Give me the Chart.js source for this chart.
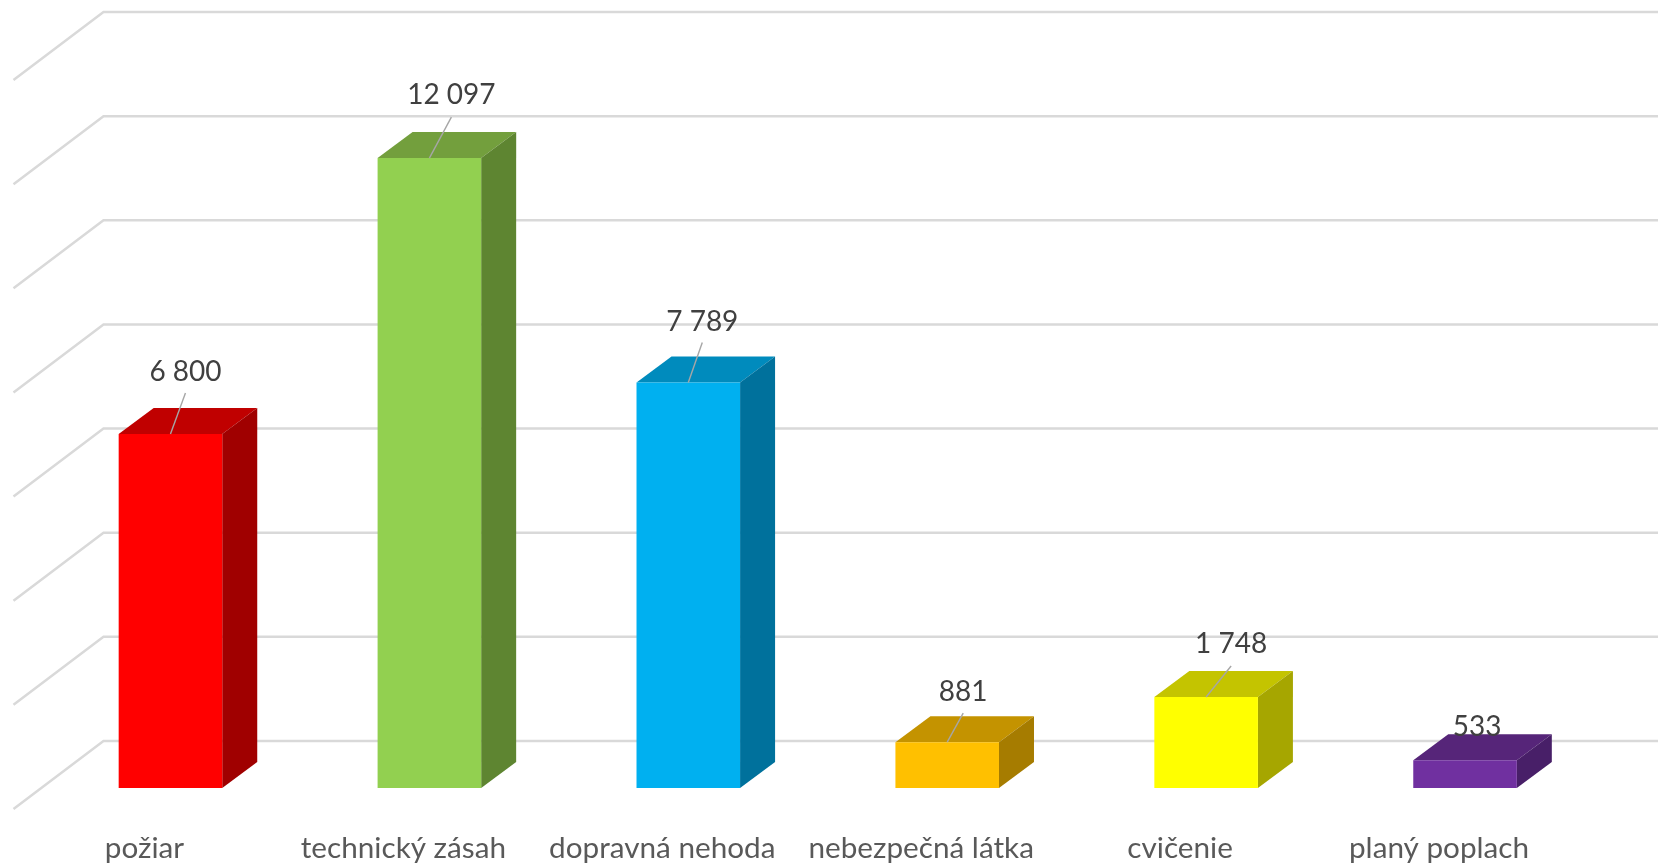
<!DOCTYPE html>
<html><head><meta charset="utf-8">
<style>html,body{margin:0;padding:0;background:#fff}#w{width:1661px;height:864px;position:relative}</style>
<script src="https://cdn.jsdelivr.net/npm/chart.js@4"></script>
</head><body><div id="w"><canvas id="c"></canvas></div>
<script>
const categories = ['požiar','technický zásah','dopravná nehoda','nebezpečná látka','cvičenie','planý poplach'];
const values = [6800,12097,7789,881,1748,533];
const frontColors = ['#ff0000','#92d050','#00b0f0','#ffc000','#ffff00','#7030a0'];
const topColors = ['#c00000','#739f3d','#008bbd','#c49300','#c4c400','#562579'];
const sideColors = ['#a00000','#5e8531','#00719c','#a67c00','#a6a600','#481f68'];
const labelNudgeX = [15,22,14,16,25,12];
const labelNudgeY = [-62,-63,-60,-50,-53,-33];
const leaderEndX = [15,22,14,16,25,null];
const leaderEndY = [-41,-41,-40,-29,-31,null];

const DX=35, DY=26, WALL_X=62.5, WALL_Y=47, FLOOR_DX=90, FLOOR_DY=68;
const FONT='Lato, Carlito, sans-serif';
const fmt=v=>String(v).replace(/\B(?=(\d{3})+$)/g,' ');

const scene={
  id:'scene',
  beforeDatasetsDraw(ch){
    const {ctx,scales:{y}}=ch, a=ch.chartArea;
    ctx.save();
    ctx.strokeStyle='#d9d9d9';ctx.lineWidth=2.5;
    y.ticks.forEach(t=>{
      const py=y.getPixelForValue(t.value)-WALL_Y, x0=a.left+WALL_X;
      ctx.beginPath();
      ctx.moveTo(x0-FLOOR_DX,py+FLOOR_DY);ctx.lineTo(x0,py);ctx.lineTo(1658,py);
      ctx.stroke();
    });
    ch.getDatasetMeta(0).data.forEach((b,i)=>{
      const p=b.getProps(['x','y','base','width'],true);
      const l=p.x-p.width/2,r=p.x+p.width/2;
      ctx.fillStyle=topColors[i];
      ctx.beginPath();ctx.moveTo(l,p.y);ctx.lineTo(l+DX,p.y-DY);ctx.lineTo(r+DX,p.y-DY);ctx.lineTo(r,p.y);ctx.closePath();ctx.fill();
      ctx.fillStyle=sideColors[i];
      ctx.beginPath();ctx.moveTo(r,p.y);ctx.lineTo(r+DX,p.y-DY);ctx.lineTo(r+DX,p.base-DY);ctx.lineTo(r,p.base);ctx.closePath();ctx.fill();
    });
    ctx.restore();
  },
  afterDatasetsDraw(ch){
    const {ctx}=ch;
    ctx.save();
    ch.getDatasetMeta(0).data.forEach((b,i)=>{
      const p=b.getProps(['x','y'],true);
      if(leaderEndX[i]!==null){
        ctx.strokeStyle='#a6a6a6';ctx.lineWidth=1.4;
        ctx.beginPath();ctx.moveTo(p.x,p.y);ctx.lineTo(p.x+leaderEndX[i],p.y+leaderEndY[i]);ctx.stroke();
      }
      ctx.fillStyle='#404040';ctx.font='28px '+FONT;ctx.textAlign='center';ctx.textBaseline='middle';
      ctx.fillText(fmt(values[i]),p.x+labelNudgeX[i],p.y+labelNudgeY[i]);
    });
    ctx.restore();
  }
};

new Chart(document.getElementById('c'),{
  type:'bar',
  data:{labels:categories,datasets:[{data:values,backgroundColor:frontColors,borderWidth:0,barPercentage:0.4,categoryPercentage:1}]},
  plugins:[scene],
  options:{
    responsive:true,maintainAspectRatio:false,animation:false,
    layout:{padding:{left:41,right:66.5,top:59,bottom:0}},
    plugins:{legend:{display:false},title:{display:false},tooltip:{enabled:false}},
    scales:{
      x:{grid:{display:false},border:{display:false},
        afterFit(s){s.height=76;},
        ticks:{color:'#595959',font:{family:FONT,size:29.7},padding:35,labelOffset:-26,autoSkip:false,maxRotation:0,minRotation:0}},
      y:{min:0,max:14000,grid:{display:false},border:{display:false},
        afterFit(s){s.width=0;},
        ticks:{display:false,stepSize:2000}}
    }
  }
});
</script></body></html>
